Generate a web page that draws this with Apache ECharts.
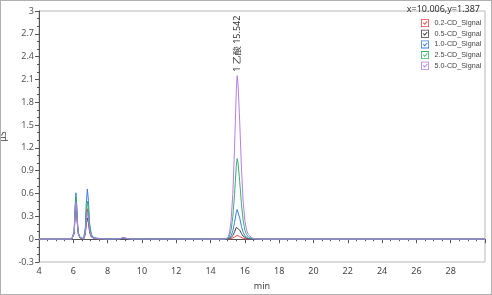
<!DOCTYPE html>
<html><head><meta charset="utf-8">
<script src="https://cdn.jsdelivr.net/npm/echarts@6/dist/echarts.min.js"></script>
<style>
html,body{margin:0;padding:0;background:#fff;}
#c{width:492px;height:295px;box-sizing:border-box;border:1px solid #b0b0b0;}
</style></head><body>
<div id="c"></div>
<script>
const seriesNames = ['0.2-CD_Signal','0.5-CD_Signal','1.0-CD_Signal','2.5-CD_Signal','5.0-CD_Signal'];
const times = [4,5.9,6.0,6.05,6.1,6.15,6.2,6.25,6.3,6.4,6.5,6.6,6.7,6.75,6.82,6.88,6.95,7.05,7.2,7.5,8.0,8.7,8.9,9.1,9.4,
  14.8,15.0,15.1,15.2,15.3,15.4,15.5,15.55,15.6,15.7,15.8,15.9,16.0,16.1,16.2,16.4,16.6,17.0,30];
const sig02 = [0,0,0.02,0.08,0.35,0.52,0.38,0.17,0.07,0.02,0.005,0.005,0.09,0.27,0.4,0.31,0.13,0.04,0.012,0.005,0.002,0.004,0.015,0.008,0.002,
  0,0,0.002,0.006,0.015,0.028,0.045,0.05,0.047,0.035,0.022,0.012,0.006,0.003,0,0,0,0,0];
const sig05 = [0,0,0.015,0.07,0.3,0.45,0.33,0.15,0.06,0.015,0.004,0.004,0.06,0.19,0.28,0.22,0.09,0.03,0.01,0.005,0.002,0.004,0.015,0.008,0.002,
  0,0.002,0.006,0.02,0.05,0.095,0.155,0.17,0.16,0.12,0.075,0.04,0.02,0.01,0.005,0.002,0,0,0];
const sig10 = [0,0,0.02,0.1,0.41,0.61,0.45,0.2,0.08,0.02,0.005,0.007,0.15,0.45,0.66,0.51,0.21,0.06,0.02,0.01,0.003,0.004,0.015,0.008,0.002,
  0,0.004,0.015,0.045,0.11,0.22,0.35,0.39,0.37,0.28,0.17,0.09,0.045,0.02,0.01,0.004,0.001,0,0];
const sig25 = [0,0,0.02,0.09,0.37,0.55,0.41,0.18,0.07,0.02,0.005,0.006,0.11,0.34,0.5,0.39,0.16,0.05,0.015,0.006,0.002,0.005,0.02,0.01,0.002,
  0,0.01,0.04,0.12,0.3,0.59,0.96,1.06,1.01,0.76,0.47,0.25,0.12,0.06,0.03,0.01,0.003,0,0];
const sig50 = [0,0,0.02,0.08,0.32,0.48,0.36,0.16,0.06,0.02,0.005,0.005,0.08,0.24,0.35,0.27,0.11,0.035,0.012,0.005,0.002,0.005,0.02,0.01,0.002,
  0,0.02,0.08,0.25,0.6,1.2,1.95,2.15,2.05,1.55,0.95,0.5,0.25,0.12,0.06,0.02,0.005,0,0];
const peakLabel = '1 乙酸 15.542';
const peakPos = [15.55, 2.15];
const cursorText = 'x=10.006,y=1.387';

const colors = ['#f04848','#404040','#3a7de0','#38b06a','#b57ee8'];
const allSig = [sig02, sig05, sig10, sig25, sig50];
const font = 'Noto Sans';
const checkIcon = 'path://M0,0 L14,0 L14,14 L0,14 Z M1.4,1.4 L1.4,12.6 L12.6,12.6 L12.6,1.4 Z M3.5,7 L5,5.8 L6.3,8 L10.5,3.5 L11.5,4.8 L6.3,10.5 Z';

const series = seriesNames.map((n,i)=>({
  name:n, type:'line', showSymbol:false, symbol:'none', animation:false,
  lineStyle:{width:1,color:colors[i]}, itemStyle:{color:colors[i]},
  data: times.map((t,k)=>[t, allSig[i][k]])
}));
series[4].markPoint = {
  symbol:'circle', symbolSize:0, animation:false,
  data:[{coord:peakPos}],
  label:{show:true, formatter:peakLabel, rotate:90, position:[0,-4], align:'left', verticalAlign:'middle',
    fontSize:9, fontFamily:font, color:'#333'}
};

const chart = echarts.init(document.getElementById('c'), null, {renderer:'canvas'});
chart.setOption({
  animation:false,
  title:{text:cursorText, right:6, top:-1, textStyle:{fontSize:9, fontWeight:'normal', color:'#333', fontFamily:font}},
  legend:{
    orient:'vertical', left:420, top:18, itemWidth:9, itemHeight:8, itemGap:2.7,
    icon:checkIcon, data:seriesNames,
    textStyle:{fontSize:7.2, lineHeight:8, color:'#444', fontFamily:'Liberation Sans'}, padding:0
  },
  grid:{left:38, right:6, top:10, bottom:32, show:true, borderColor:'#b8b8b8', borderWidth:1,
    containLabel:false, outerBoundsMode:'none'},
  xAxis:{
    type:'value', min:4, max:30, interval:2,
    name:'min', nameLocation:'middle', nameGap:20,
    nameTextStyle:{fontSize:9, color:'#444', fontFamily:font},
    axisLine:{lineStyle:{color:'#555'}}, axisTick:{show:true, length:4, lineStyle:{color:'#555'}},
    minorTick:{show:true, splitNumber:4, length:2, lineStyle:{color:'#555'}},
    axisLabel:{fontSize:9, color:'#444', fontFamily:font, margin:5, showMaxLabel:false},
    splitLine:{show:false}
  },
  yAxis:{
    type:'value', min:-0.3, max:3, interval:0.3,
    name:'μS', nameLocation:'middle', nameGap:27,
    nameTextStyle:{fontSize:9, color:'#444', fontFamily:font},
    axisLine:{show:true, lineStyle:{color:'#555'}}, axisTick:{show:true, length:4, lineStyle:{color:'#555'}},
    minorTick:{show:true, splitNumber:3, length:2, lineStyle:{color:'#555'}},
    axisLabel:{fontSize:9, color:'#555', fontFamily:font, margin:5,
      formatter:v=>String(Math.round(v*10)/10)},
    splitLine:{show:false}
  },
  series:series
});
</script></body></html>
